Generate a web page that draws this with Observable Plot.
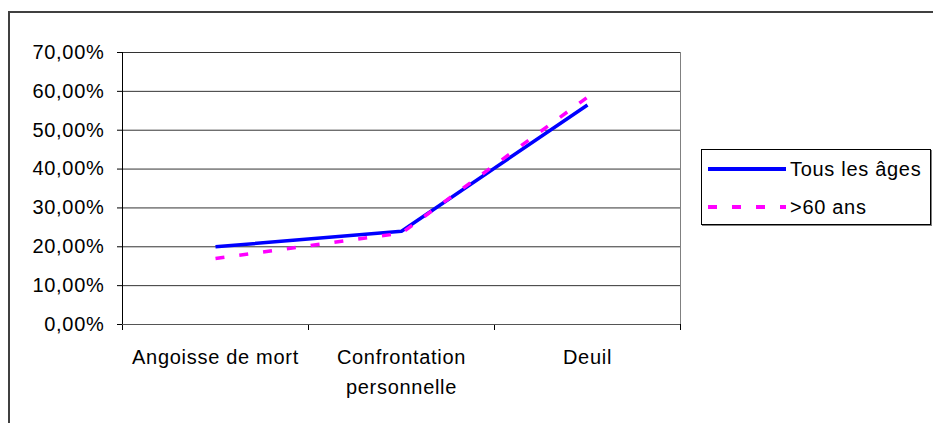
<!DOCTYPE html>
<html>
<head>
<meta charset="utf-8">
<script src="https://cdn.jsdelivr.net/npm/d3@7"></script>
<script src="https://cdn.jsdelivr.net/npm/@observablehq/plot@0.6"></script>
<style>
html, body { margin: 0; padding: 0; background: #fff; overflow: hidden; }
#wrap { position: relative; width: 933px; height: 423px; font-family: "Liberation Sans", Arial, sans-serif; }
#frame { position: absolute; left: 8px; top: 11px; width: 1000px; height: 600px;
  border-left: 2px solid #404040; border-top: 2px solid #404040; }
#chart { position: absolute; left: 0; top: 0; }
#legend { position: absolute; left: 701px; top: 149px; width: 230px; height: 76px;
  border: 1px solid #000; box-shadow: 1px 1px 0 #808080; background: #fff; box-sizing: border-box; }
#legend .row { position: absolute; left: 0; height: 24px; display: flex; align-items: center; }
#legend .row span { font-size: 20px; letter-spacing: 0.7px; color: #000; margin-left: 4px; }
</style>
</head>
<body>
<div id="wrap">
  <div id="frame"></div>
  <div id="chart"></div>
  <div id="legend"></div>
</div>
<script>
// ---- data ----
const categories = ["Angoisse de mort", "Confrontation personnelle", "Deuil"];
const categoryLabels = ["Angoisse de mort", "Confrontation\npersonnelle", "Deuil"];
const tousLesAges = [20.0, 24.0, 56.5];
const plus60Ans = [17.0, 23.5, 58.5];
const yTicks = [0, 10, 20, 30, 40, 50, 60, 70];
const seriesNames = ["Tous les âges", ">60 ans"];
const seriesColors = ["#0000ff", "#ff00ff"];

const fmt = d => d.toFixed(2).replace(".", ",") + "%";
const xi = (d, i) => i + 0.5;

const chart = Plot.plot({
  width: 933,
  height: 423,
  marginLeft: 122,
  marginRight: 253,
  marginTop: 52,
  marginBottom: 99,
  style: { fontFamily: "'Liberation Sans', Arial, sans-serif", fontSize: "20px", color: "#000", background: "transparent", letterSpacing: "0.7px" },
  x: { domain: [0, categories.length], ticks: d3.range(categories.length + 1), tickFormat: () => "", tickSize: 6, label: null },
  y: { domain: [0, 70], ticks: yTicks, tickFormat: fmt, tickSize: 5, tickPadding: 13, label: null },
  marks: [
    Plot.ruleY(yTicks, { stroke: "#333" }),
    Plot.ruleX([categories.length], { stroke: "#808080" }),
    Plot.ruleX([0], { stroke: "#000" }),
    Plot.ruleY([0], { stroke: "#555" }),
    Plot.text(categoryLabels, { x: xi, frameAnchor: "bottom", lineAnchor: "top", dy: 18, lineHeight: 1.5, fontSize: 20, fill: "#000" }),
    Plot.line(tousLesAges, { x: xi, y: d => d, stroke: seriesColors[0], strokeWidth: 3.5, strokeLinecap: "butt", strokeLinejoin: "miter" }),
    Plot.line(plus60Ans, { x: xi, y: d => d, stroke: seriesColors[1], strokeWidth: 3.5, strokeDasharray: "9,15", strokeLinecap: "butt", strokeLinejoin: "miter" })
  ]
});
document.getElementById("chart").appendChild(chart);

// ---- legend ----
const legend = document.getElementById("legend");
seriesNames.forEach((name, i) => {
  const row = document.createElement("div");
  row.className = "row";
  row.style.top = (7 + i * 38) + "px";
  row.style.left = "6px";
  const dash = i === 1 ? 'stroke-dasharray="9,15"' : "";
  row.innerHTML = `<svg width="78" height="24"><line x1="0" x2="78" y1="12" y2="12" stroke="${seriesColors[i]}" stroke-width="4" ${dash}/></svg><span>${name}</span>`;
  legend.appendChild(row);
});
</script>
</body>
</html>
